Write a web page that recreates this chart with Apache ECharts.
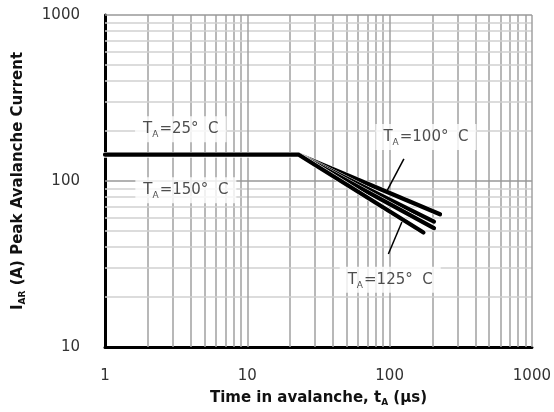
<!DOCTYPE html>
<html>
<head>
<meta charset="utf-8">
<style>
  html, body { margin: 0; padding: 0; background: #fff; }
  #chart { width: 554px; height: 412px; }
</style>
<script src="https://cdn.jsdelivr.net/npm/echarts@6/dist/echarts.min.js"></script>
</head>
<body>
<div id="chart"></div>
<script>
// Single pulse avalanche capability: I_AR vs time in avalanche (log-log)
const temperatures = ['25', '100', '125', '150'];
const flatCurrent = 144;          // A, limit before the knee
const tStart = 1;                 // µs
const tKnee = 23;                 // µs
const endTime = [226, 205, 205, 173];     // µs, end of each curve
const endCurrent = [63, 57, 52, 49];      // A, at end of each curve

// Grid lines of the log-log paper
const xMinorGrid = [2, 3, 4, 5, 6, 7, 8, 9, 20, 30, 40, 50, 60, 70, 80, 90, 200, 300, 400, 500, 600, 700, 800, 900];
const yMinorGrid = [20, 30, 40, 50, 60, 70, 80, 90, 200, 300, 400, 500, 600, 700, 800, 900];
const xMajorGrid = [10, 100, 1000];
const yMajorGrid = [100, 1000];

// Annotation text anchors [time, current]
const labelPoints = [
  { text: '25', at: [3.41, 205] },
  { text: '150', at: [3.7, 88] },
  { text: '100', at: [180, 184] },
  { text: '125', at: [101, 25.4] }
];
// Leader lines from labels to curves
const leaders = [
  [[126, 136], [95, 86]],
  [[122, 56.6], [98, 36.3]]
];

const font = 'DejaVu Sans';

const gridMarks = []
  .concat(xMinorGrid.map(v => ({ xAxis: v, lineStyle: { color: '#a0a0a0', width: 1.5, type: 'solid' } })))
  .concat(yMinorGrid.map(v => ({ yAxis: v, lineStyle: { color: '#d0d0d0', width: 1.5, type: 'solid' } })))
  .concat(xMajorGrid.map(v => ({ xAxis: v, lineStyle: { color: '#a0a0a0', width: 1.5, type: 'solid' } })))
  .concat(yMajorGrid.map(v => ({ yAxis: v, lineStyle: { color: '#999999', width: 1.5, type: 'solid' } })));

// Each curve gets a thin white outline underneath so neighbours stay distinct
const curveSeries = [];
temperatures.forEach((t, i) => {
  const pts = [[tStart, flatCurrent], [tKnee, flatCurrent], [endTime[i], endCurrent[i]]];
  curveSeries.push({
    type: 'line',
    z: 3,
    symbol: 'none',
    silent: true,
    lineStyle: { color: '#fff', width: 5.2, cap: 'round', join: 'round' },
    data: pts
  });
  curveSeries.push({
    name: t + '°C',
    type: 'line',
    z: 3,
    symbol: 'none',
    lineStyle: { color: '#000', width: 4.2, cap: 'round', join: 'round' },
    data: pts
  });
});

const leaderSeries = leaders.map(pts => ({
  type: 'line',
  z: 4,
  symbol: 'none',
  lineStyle: { color: '#000', width: 1.5 },
  data: pts
}));

const rich = {
  t: { fontFamily: font, fontSize: 15, color: '#222', lineHeight: 20 },
  s: { fontFamily: font, fontSize: 9, color: '#222', verticalAlign: 'bottom', lineHeight: 14, padding: [6, 1, 0, 0] }
};

const nameRich = {
  b: { fontFamily: font, fontWeight: 'bold', fontSize: 15, color: '#111', lineHeight: 18 },
  bs: { fontFamily: font, fontWeight: 'bold', fontSize: 9, color: '#111', verticalAlign: 'bottom', lineHeight: 12, padding: [5, 0, 0, 0] }
};

const plainNumber = v => String(Math.round(v));

const chart = echarts.init(document.getElementById('chart'), null, { renderer: 'canvas' });
chart.setOption({
  animation: false,
  backgroundColor: '#fff',
  grid: { left: 105, right: 21, top: 15, bottom: 65 },
  xAxis: {
    type: 'log',
    logBase: 10,
    min: 1,
    max: 1000,
    name: '{b|Time in avalanche, t}{bs|A}{b| (µs)}',
    nameLocation: 'middle',
    nameGap: 42,
    nameTextStyle: { rich: nameRich },
    axisLine: { show: true, lineStyle: { color: '#000', width: 3 } },
    axisTick: { show: false },
    splitLine: { show: false },
    axisLabel: { fontFamily: font, fontSize: 15, color: '#333', margin: 22, formatter: plainNumber }
  },
  yAxis: {
    type: 'log',
    logBase: 10,
    min: 10,
    max: 1000,
    name: '{b|I}{bs|AR}{b| (A) Peak Avalanche Current}',
    nameLocation: 'middle',
    nameGap: 78,
    nameTextStyle: { rich: nameRich },
    axisLine: { show: true, lineStyle: { color: '#000', width: 3 } },
    axisTick: { show: false },
    splitLine: { show: false },
    axisLabel: { fontFamily: font, fontSize: 15, color: '#333', margin: 25, formatter: plainNumber }
  },
  series: [
    {
      type: 'line',
      z: 1,
      silent: true,
      data: [],
      markLine: {
        z: 1,
        silent: true,
        symbol: ['none', 'none'],
        label: { show: false },
        emphasis: { disabled: true },
        data: gridMarks
      }
    }
  ].concat(curveSeries, leaderSeries, [
    {
      type: 'scatter',
      z: 5,
      symbolSize: 0,
      silent: true,
      data: labelPoints.map(p => ({
        value: p.at,
        label: {
          show: true,
          position: 'inside',
          formatter: '{t|T}{s|A}{t|=' + p.text + '°  C}',
          backgroundColor: '#fff',
          padding: [3, 8],
          rich: rich
        }
      }))
    }
  ])
});
</script>
</body>
</html>
